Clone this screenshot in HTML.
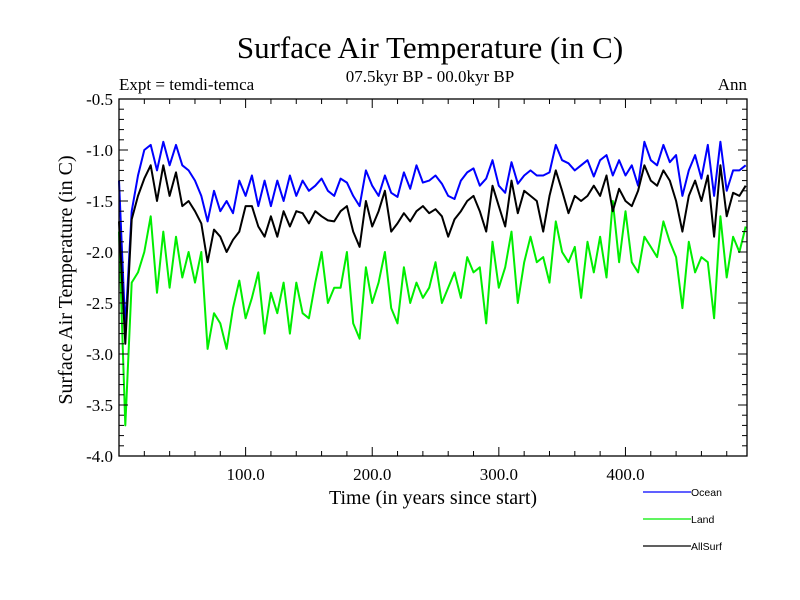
<!DOCTYPE html>
<html><head><meta charset="utf-8"><style>
body{margin:0;background:#fff;}
svg{display:block;font-family:"Liberation Serif",serif;}
</style></head><body>
<svg id="chart" width="800" height="600">
<text x="430" y="58" text-anchor="middle" font-size="31">Surface Air Temperature (in C)</text>
<text x="119" y="90" font-size="17">Expt = temdi-temca</text>
<text x="430" y="82" text-anchor="middle" font-size="17">07.5kyr BP - 00.0kyr BP</text>
<text x="747" y="90" text-anchor="end" font-size="17">Ann</text>
<text transform="translate(72,280) rotate(-90)" text-anchor="middle" font-size="20">Surface Air Temperature (in C)</text>
<text x="433" y="504" text-anchor="middle" font-size="20">Time (in years since start)</text>
<g id="plot"></g>
<g id="legend" font-family="Liberation Sans, sans-serif" font-size="10.5">
<line x1="643" y1="492" x2="691" y2="492" stroke="#0000ff" stroke-width="1.2"/>
<text x="691" y="496">Ocean</text>
<line x1="643" y1="519" x2="691" y2="519" stroke="#00ee00" stroke-width="1.2"/>
<text x="691" y="523">Land</text>
<line x1="643" y1="546" x2="691" y2="546" stroke="#000" stroke-width="1.2"/>
<text x="691" y="550">AllSurf</text>
</g>
</svg>
<script>
const ocean=[-1.3,-2.75,-1.6,-1.25,-1.0,-0.95,-1.2,-0.92,-1.15,-0.95,-1.15,-1.2,-1.3,-1.45,-1.7,-1.4,-1.6,-1.5,-1.62,-1.3,-1.45,-1.25,-1.55,-1.3,-1.55,-1.3,-1.5,-1.25,-1.45,-1.3,-1.4,-1.35,-1.28,-1.4,
-1.45,-1.28,-1.32,-1.45,-1.55,-1.2,-1.35,-1.45,-1.25,-1.42,-1.46,-1.22,-1.38,-1.15,-1.32,-1.3,-1.25,-1.33,-1.45,-1.48,-1.3,-1.22,-1.18,-1.35,-1.28,-1.1,-1.35,-1.42,-1.12,-1.33,-1.25,-1.2,-1.25,
-1.25,-1.22,-0.95,-1.1,-1.13,-1.2,-1.15,-1.1,-1.26,-1.1,-1.05,-1.25,-1.1,-1.25,-1.15,-1.35,-0.92,-1.1,-1.15,-0.95,-1.12,-1.05,-1.45,-1.2,-1.05,-1.28,-0.95,-1.45,-0.92,-1.4,-1.2,-1.2,-1.15];
const land=[-1.8,-3.7,-2.3,-2.2,-2.0,-1.65,-2.4,-1.8,-2.35,-1.85,-2.25,-2.0,-2.3,-2.0,-2.95,-2.6,-2.7,-2.95,-2.55,-2.28,-2.65,-2.45,-2.2,-2.8,-2.4,-2.6,-2.3,-2.8,-2.3,-2.6,-2.65,-2.3,-2.0,-2.5,
-2.35,-2.35,-2.0,-2.7,-2.85,-2.15,-2.5,-2.3,-2.0,-2.55,-2.7,-2.15,-2.5,-2.3,-2.45,-2.35,-2.1,-2.5,-2.35,-2.2,-2.45,-2.05,-2.2,-2.15,-2.7,-1.9,-2.35,-2.15,-1.8,-2.5,-2.1,-1.85,-2.1,
-2.05,-2.3,-1.7,-2.0,-2.1,-1.95,-2.45,-1.9,-2.2,-1.85,-2.25,-1.5,-2.1,-1.6,-2.1,-2.2,-1.85,-1.95,-2.05,-1.7,-1.9,-2.05,-2.55,-1.9,-2.2,-2.05,-2.1,-2.65,-1.65,-2.25,-1.85,-2.0,-1.75];
const allsurf=[-1.7,-2.9,-1.68,-1.45,-1.28,-1.15,-1.5,-1.15,-1.45,-1.22,-1.55,-1.5,-1.6,-1.72,-2.1,-1.78,-1.85,-2.0,-1.88,-1.8,-1.55,-1.55,-1.75,-1.85,-1.65,-1.85,-1.6,-1.75,-1.6,-1.62,-1.72,-1.6,-1.65,-1.69,
-1.7,-1.6,-1.55,-1.8,-1.95,-1.5,-1.75,-1.6,-1.4,-1.8,-1.72,-1.62,-1.7,-1.6,-1.55,-1.62,-1.58,-1.65,-1.85,-1.68,-1.6,-1.5,-1.45,-1.6,-1.8,-1.35,-1.55,-1.75,-1.3,-1.62,-1.4,-1.45,-1.5,
-1.8,-1.45,-1.2,-1.4,-1.62,-1.45,-1.5,-1.45,-1.35,-1.45,-1.25,-1.6,-1.38,-1.5,-1.55,-1.4,-1.15,-1.3,-1.35,-1.2,-1.3,-1.5,-1.8,-1.45,-1.3,-1.5,-1.25,-1.85,-1.15,-1.65,-1.42,-1.45,-1.35];
const years=ocean.map((_,i)=>i*5);
const xTickVals=[100,200,300,400];
const xTickLabels=["100.0","200.0","300.0","400.0"];
const yTickVals=[-0.5,-1.0,-1.5,-2.0,-2.5,-3.0,-3.5,-4.0];
const yTickLabels=["-0.5","-1.0","-1.5","-2.0","-2.5","-3.0","-3.5","-4.0"];

const L=119,R=747,T=99,B=456,X0=0,X1=496,Y0=-4,Y1=-0.5;
const sx=v=>L+(v-X0)/(X1-X0)*(R-L);
const sy=v=>B-(v-Y0)/(Y1-Y0)*(B-T);
const NS='http://www.w3.org/2000/svg';
const g=document.getElementById('plot');
function mk(t,a){const e=document.createElementNS(NS,t);for(const k in a)e.setAttribute(k,a[k]);g.appendChild(e);return e;}

function series(vals,color,name){
  const d=vals.map((v,i)=>(i?'L':'M')+sx(years[i]).toFixed(1)+','+sy(v).toFixed(1)).join('');
  const p=mk('path',{d:d,fill:'none',stroke:color,'stroke-width':2,'stroke-linejoin':'round'});
  
  
}
series(land,'#00ee00','land-series');
series(ocean,'#0000ff','ocean-series');
series(allsurf,'#000000','allsurf-series');

const box=mk('rect',{x:L,y:T,width:R-L,height:B-T,fill:'none',stroke:'#000','stroke-width':1.3});



// y ticks
for(let k=0;k<=35;k++){
  const v=-4+k*0.1, y=sy(v), major=k%5===0, len=major?9:5;
  mk('line',{x1:L,y1:y,x2:L+len,y2:y,stroke:'#000','stroke-width':1});
  mk('line',{x1:R,y1:y,x2:R-len,y2:y,stroke:'#000','stroke-width':1});
}
yTickVals.forEach((v,i)=>{
  const t=mk('text',{x:L-6,y:sy(v)+6,'text-anchor':'end','font-size':17});
  t.textContent=yTickLabels[i];
  
  
});
// x ticks
for(let v=20;v<X1;v+=20){
  const x=sx(v), major=v%100===0, len=major?9:5;
  mk('line',{x1:x,y1:B,x2:x,y2:B-len,stroke:'#000','stroke-width':1});
  mk('line',{x1:x,y1:T,x2:x,y2:T+len,stroke:'#000','stroke-width':1});
}
xTickVals.forEach((v,i)=>{
  const t=mk('text',{x:sx(v),y:B+24,'text-anchor':'middle','font-size':17});
  t.textContent=xTickLabels[i];
  
  
});
</script>
</body></html>
